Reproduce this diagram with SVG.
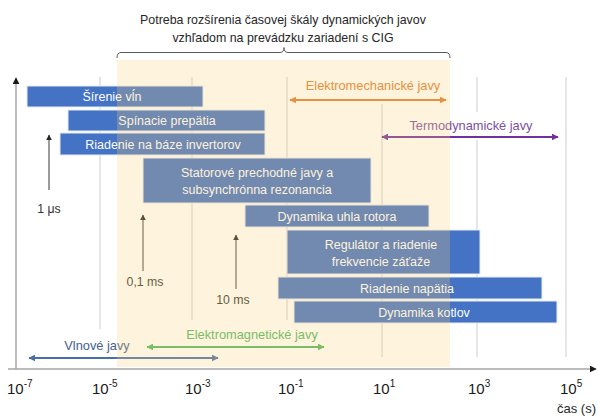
<svg xmlns="http://www.w3.org/2000/svg" width="598" height="418" viewBox="0 0 598 418">
<defs>
<style>
text{font-family:"Liberation Sans","DejaVu Sans",sans-serif;}
.title{font-size:12.4px;fill:#262626;text-anchor:middle;}
.bar rect{fill:#4472C4;stroke:#E6ECF6;stroke-width:1;}
.bar text{font-size:12.5px;fill:#FFFFFF;text-anchor:middle;}
.grid{stroke:#D9D9D9;stroke-width:1.3;fill:none;}
.tick{font-size:15px;fill:#1a1a1a;}
.sup{font-size:10px;}
.ann{stroke:#595959;stroke-width:1.2;fill:none;marker-end:url(#mAnn);}
.annt{font-size:12.3px;fill:#333333;text-anchor:middle;}
.rng{stroke-width:2;fill:none;}
.rngt{font-size:12.8px;text-anchor:middle;}
</style>
<marker id="mAnn" viewBox="0 0 10 10" refX="9" refY="5" markerWidth="6" markerHeight="6" markerUnits="userSpaceOnUse" orient="auto"><path d="M0,0L10,5L0,10z" fill="#262626"/></marker>
<marker id="mAx" viewBox="0 0 10 10" refX="9" refY="5" markerWidth="7" markerHeight="7" markerUnits="userSpaceOnUse" orient="auto"><path d="M0,0L10,5L0,10z" fill="#1a1a1a"/></marker>
<marker id="mOr" viewBox="0 0 10 10" refX="9" refY="5" markerWidth="7" markerHeight="7" markerUnits="userSpaceOnUse" orient="auto-start-reverse"><path d="M0,0L10,5L0,10z" fill="#E07B2E"/></marker>
<marker id="mPu" viewBox="0 0 10 10" refX="9" refY="5" markerWidth="7" markerHeight="7" markerUnits="userSpaceOnUse" orient="auto-start-reverse"><path d="M0,0L10,5L0,10z" fill="#7030A0"/></marker>
<marker id="mGr" viewBox="0 0 10 10" refX="9" refY="5" markerWidth="7" markerHeight="7" markerUnits="userSpaceOnUse" orient="auto-start-reverse"><path d="M0,0L10,5L0,10z" fill="#4DB862"/></marker>
<marker id="mBl" viewBox="0 0 10 10" refX="9" refY="5" markerWidth="7" markerHeight="7" markerUnits="userSpaceOnUse" orient="auto-start-reverse"><path d="M0,0L10,5L0,10z" fill="#4A6FA8"/></marker>
</defs>
<rect x="0" y="0" width="598" height="418" fill="#FFFFFF"/>

<g id="title">
<text class="title" x="283" y="24">Potreba rozšírenia časovej škály dynamických javov</text>
<text class="title" x="283" y="42">vzhľadom na prevádzku zariadení s CIG</text>
<path d="M117,58 Q117,52.5 121,52.5 L280,52.5 Q284,52.5 284,47.5 Q284,52.5 288,52.5 L446,52.5 Q450,52.5 450,58" fill="none" stroke="#595959" stroke-width="1"/>
</g>

<g id="grid">
<path class="grid" d="M100,77V329M192,77V320M287,77V320M382,104V357M477,77V112M477,140V357M566,77V357"/>
</g>

<g id="axes">
<line x1="16" y1="369" x2="16" y2="78" stroke="#A6A6A6" stroke-width="1.5" marker-end="url(#mAx)"/>
<line x1="8" y1="369" x2="596" y2="369" stroke="#A6A6A6" stroke-width="1.5" marker-end="url(#mAx)"/>
<text class="tick" x="7" y="394">10<tspan class="sup" dy="-7">-7</tspan></text>
<text class="tick" x="92" y="394">10<tspan class="sup" dy="-7">-5</tspan></text>
<text class="tick" x="185" y="394">10<tspan class="sup" dy="-7">-3</tspan></text>
<text class="tick" x="278" y="394">10<tspan class="sup" dy="-7">-1</tspan></text>
<text class="tick" x="373" y="394">10<tspan class="sup" dy="-7">1</tspan></text>
<text class="tick" x="468" y="394">10<tspan class="sup" dy="-7">3</tspan></text>
<text class="tick" x="560" y="394">10<tspan class="sup" dy="-7">5</tspan></text>
<text x="596" y="413" font-size="13px" fill="#262626" text-anchor="end">čas (s)</text>
</g>

<g id="n-sirenie" class="bar"><rect x="27" y="86" width="176" height="21"/><text x="112" y="101">Šírenie vĺn</text></g>
<g id="n-spinacie" class="bar"><rect x="68" y="110" width="197" height="21"/><text x="167" y="125">Spínacie prepätia</text></g>
<g id="n-invertory" class="bar"><rect x="60" y="133" width="205" height="22"/><text x="163" y="148.5">Riadenie na báze invertorov</text></g>
<g id="n-statorove" class="bar"><rect x="143" y="158" width="228" height="45"/><text x="257" y="177">Statorové prechodné javy a</text><text x="257" y="194">subsynchrónna rezonancia</text></g>
<g id="n-rotor" class="bar"><rect x="245" y="205" width="184" height="22"/><text x="337" y="220.5">Dynamika uhla rotora</text></g>
<g id="n-regulator" class="bar"><rect x="287" y="230" width="193" height="44"/><text x="381" y="249">Regulátor a riadenie</text><text x="381" y="266">frekvencie záťaže</text></g>
<g id="n-napatie" class="bar"><rect x="278" y="277" width="264" height="22"/><text x="407" y="292.5">Riadenie napätia</text></g>
<g id="n-kotly" class="bar"><rect x="294" y="301" width="263" height="22"/><text x="424" y="316.5">Dynamika kotlov</text></g>

<g id="connectors">
<line class="ann" x1="49" y1="190" x2="49" y2="135"/>
<line class="ann" x1="143" y1="271" x2="143" y2="215"/>
<line class="ann" x1="236" y1="289" x2="236" y2="235"/>
<line class="rng" x1="290" y1="100" x2="446" y2="100" stroke="#E07B2E" marker-start="url(#mOr)" marker-end="url(#mOr)"/>
<line class="rng" x1="382" y1="137" x2="558" y2="137" stroke="#7030A0" marker-start="url(#mPu)" marker-end="url(#mPu)"/>
<line class="rng" x1="147" y1="347" x2="324" y2="347" stroke="#4DB862" marker-start="url(#mGr)" marker-end="url(#mGr)"/>
<line class="rng" x1="29" y1="358" x2="218" y2="358" stroke="#4A6FA8" marker-start="url(#mBl)" marker-end="url(#mBl)"/>
</g>

<g id="labels">
<text class="annt" x="49" y="213">1 μs</text>
<text class="annt" x="145" y="286">0,1 ms</text>
<text class="annt" x="233" y="304">10 ms</text>
<text class="rngt" x="373" y="90" fill="#E07B2E">Elektromechanické javy</text>
<text class="rngt" x="471" y="130" fill="#7B4FA6">Termodynamické javy</text>
<text class="rngt" x="252" y="339" fill="#4DB862">Elektromagnetické javy</text>
<text class="rngt" x="97" y="350" fill="#44618F">Vlnové javy</text>
</g>

<g id="overlay">
<rect x="117" y="60" width="333" height="307" fill="#FBCF73" opacity="0.25"/>
</g>
</svg>
